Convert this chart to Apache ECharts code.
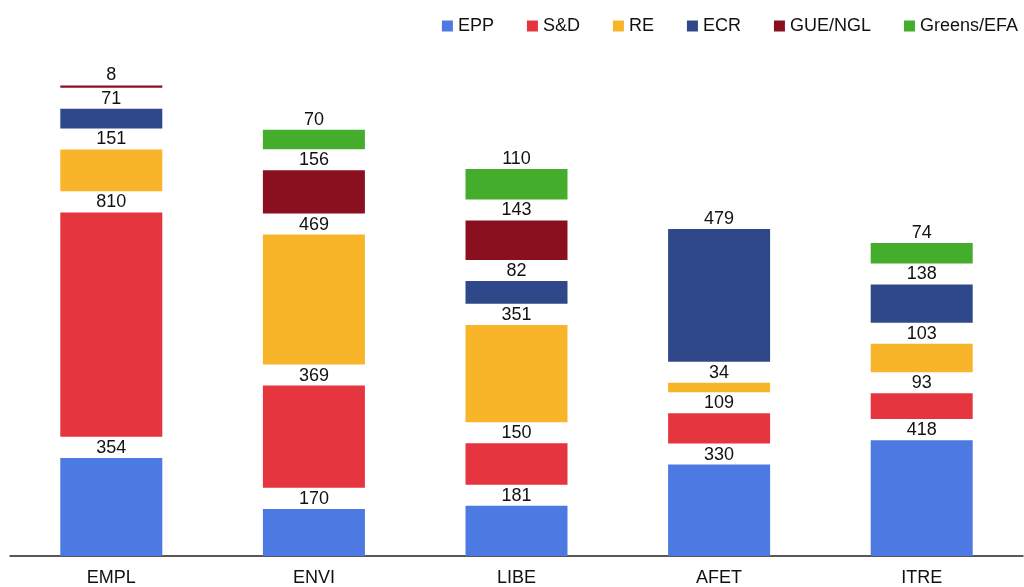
<!DOCTYPE html>
<html>
<head>
<meta charset="utf-8">
<script src="https://cdn.jsdelivr.net/npm/echarts@6/dist/echarts.min.js"></script>
<style>
html,body{margin:0;padding:0;background:#fff;}
#c{width:1024px;height:587px;}
</style>
</head>
<body>
<div id="c"></div>
<script>
// ---- data ----
var categories = ['EMPL', 'ENVI', 'LIBE', 'AFET', 'ITRE'];
var groupNames = ['EPP', 'S&D', 'RE', 'ECR', 'GUE/NGL', 'Greens/EFA'];
var eppValues    = [354, 170, 181, 330, 418];
var sdValues     = [810, 369, 150, 109, 93];
var reValues     = [151, 469, 351, 34, 103];
var ecrValues    = [71, null, 82, 479, 138];
var gueValues    = [8, 156, 143, null, null];
var greensValues = [null, 70, 110, null, 74];

// ---- styling ----
var colors = ['#4d79e3', '#e5353f', '#f9b52a', '#2e4889', '#8a1020', '#45ad2c'];
var GAP = 76; // spacer between stacked segments (in value units)
var FONT = '"Liberation Sans", Arial, sans-serif';

var allValues = [eppValues, sdValues, reValues, ecrValues, gueValues, greensValues];

var series = [];
allValues.forEach(function (vals, k) {
  series.push({
    name: groupNames[k],
    type: 'bar',
    stack: 'total',
    barWidth: 102,
    data: vals,
    itemStyle: { color: colors[k] },
    label: {
      show: true,
      position: 'top',
      distance: 1,
      color: '#111',
      fontSize: 18,
      fontFamily: FONT
    }
  });
  if (k < allValues.length - 1) {
    // spacer: only where this segment exists and another exists above
    var spacer = categories.map(function (c, i) {
      if (vals[i] == null) return null;
      for (var j = k + 1; j < allValues.length; j++) {
        if (allValues[j][i] != null) return GAP;
      }
      return null;
    });
    series.push({
      name: 'gap' + k,
      type: 'bar',
      stack: 'total',
      barWidth: 102,
      data: spacer,
      silent: true,
      itemStyle: { color: 'rgba(0,0,0,0)' },
      label: { show: false },
      emphasis: { disabled: true }
    });
  }
});

var chart = echarts.init(document.getElementById('c'), null, { renderer: 'canvas' });
chart.setOption({
  animation: false,
  backgroundColor: '#fff',
  legend: {
    data: groupNames,
    right: 1,
    top: 12,
    itemWidth: 11,
    itemHeight: 11,
    itemGap: 33,
    icon: 'rect',
    textStyle: { fontSize: 18, color: '#111', fontFamily: FONT }
  },
  grid: { left: 10, right: 1, top: 60, bottom: 31, containLabel: false, outerBoundsMode: 'none' },
  xAxis: {
    type: 'category',
    data: categories,
    axisLine: { lineStyle: { color: '#222', width: 1.5 } },
    axisTick: { show: false },
    axisLabel: { fontSize: 18, color: '#111', margin: 13, fontFamily: FONT }
  },
  yAxis: {
    type: 'value',
    min: 0,
    max: 1790,
    show: false,
    splitLine: { show: false }
  },
  series: series
});
</script>
</body>
</html>
